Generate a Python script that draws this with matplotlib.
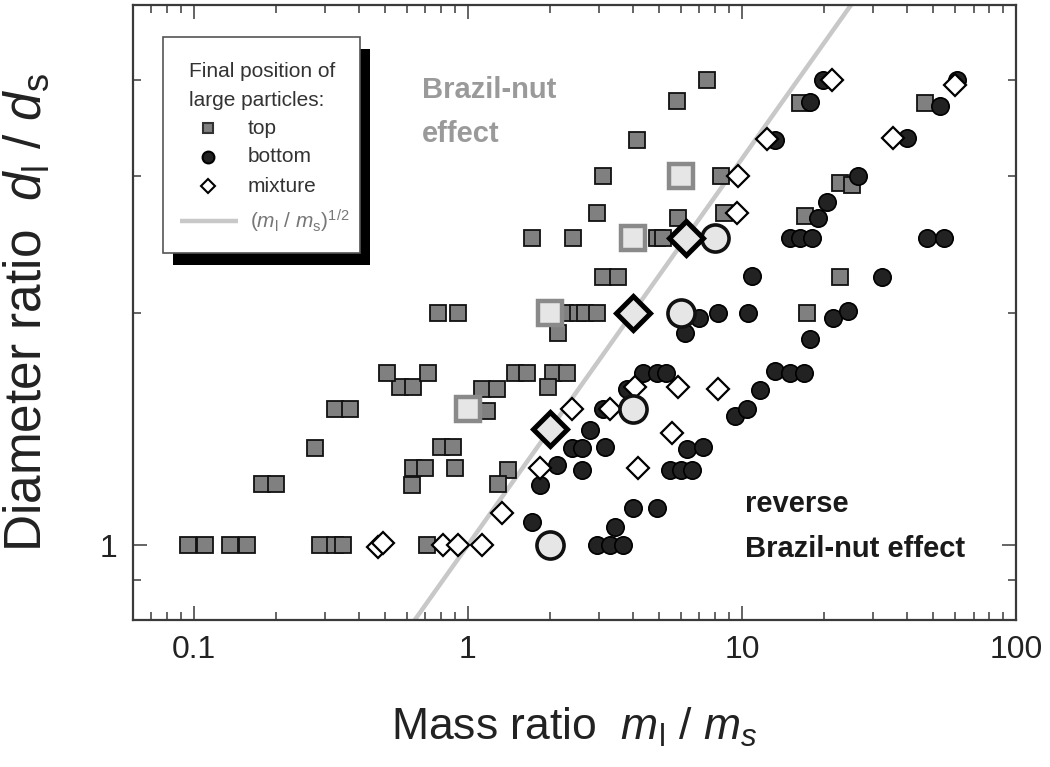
import matplotlib
matplotlib.use("Agg")
import matplotlib.pyplot as plt
import numpy as np
from matplotlib.ticker import LogLocator, FuncFormatter, NullFormatter
from matplotlib.patches import Rectangle

plt.rcParams['font.family'] = ['Liberation Sans', 'DejaVu Sans']
plt.rcParams['mathtext.fontset'] = 'custom'
plt.rcParams['mathtext.rm'] = 'Liberation Sans'
plt.rcParams['mathtext.it'] = 'Liberation Sans:italic'
plt.rcParams['mathtext.bf'] = 'Liberation Sans:bold'

# ---------------- data ----------------
# large particles end on top (squares)
top_x = [0.095, 0.11, 0.135, 0.156, 0.288, 0.327, 0.35, 0.71,
         0.177, 0.2, 0.625, 0.63, 0.70, 0.9, 0.277, 0.80, 0.88,
         0.327, 0.371, 0.565, 0.63, 0.506, 0.715, 0.78, 0.92,
         1.4, 1.29, 1.13, 1.28, 1.17, 1.48, 1.64, 2.04, 2.3, 1.96,
         2.13, 2.26, 2.52, 2.67, 2.96, 3.11, 3.53, 1.71, 2.42, 4.9,
         5.15, 2.96, 3.11, 4.14, 5.8, 7.45, 5.84, 8.6, 8.4, 17.3,
         22.8, 17.0, 22.8, 25.2, 16.3, 46.5]
top_y = [1, 1, 1, 1, 1, 1, 1, 1,
         1.2, 1.2, 1.195, 1.257, 1.257, 1.257, 1.335, 1.34, 1.34,
         1.5, 1.5, 1.6, 1.6, 1.67, 1.67, 2, 2,
         1.25, 1.2, 1.59, 1.59, 1.49, 1.67, 1.67, 1.67, 1.67, 1.6,
         1.88, 2, 2, 2, 2, 2.22, 2.22, 2.5, 2.5, 2.5,
         2.5, 2.69, 3.0, 3.34, 3.76, 4.0, 2.65, 2.69, 3.0, 2.0,
         2.22, 2.67, 2.94, 2.92, 3.73, 3.73]

# large particles end at bottom (circles)
bot_x = [1.71, 1.83, 2.11, 2.6, 2.4, 2.6, 2.79, 3.16, 3.1, 3.8,
         4.35, 4.9, 5.3, 2.95, 3.3, 3.68, 3.44, 4.0, 4.9, 5.46,
         6.0, 6.6, 6.3, 7.2, 9.4, 10.4, 11.6, 13.2, 15.0, 16.9,
         17.7, 21.5, 24.4, 7.0, 8.2, 6.2, 10.5, 10.9, 32.4, 15.0,
         16.3, 18.0, 19.0, 20.5, 26.5, 13.2, 40.0, 17.7, 19.8, 52.8,
         47.5, 54.5, 61.0]
bot_y = [1.07, 1.195, 1.27, 1.25, 1.335, 1.335, 1.41, 1.34, 1.5, 1.59,
         1.67, 1.67, 1.67, 1.0, 1.0, 1.0, 1.055, 1.116, 1.116, 1.25,
         1.25, 1.25, 1.33, 1.34, 1.47, 1.5, 1.587, 1.68, 1.67, 1.67,
         1.85, 1.97, 2.01, 1.97, 2.0, 1.88, 2.0, 2.23, 2.22, 2.5,
         2.5, 2.5, 2.65, 2.78, 3.0, 3.34, 3.36, 3.75, 4.0, 3.70,
         2.5, 2.5, 4.0]

# mixture (diamonds)
mix_x = [0.47, 0.49, 0.81, 0.92, 1.13, 1.33, 1.83, 2.4, 3.3, 4.07,
         5.84, 8.2, 5.55, 4.17, 9.6, 9.65, 12.3, 21.4, 35.6, 60.0]
mix_y = [0.995, 1.005, 1.0, 1.0, 1.0, 1.1, 1.257, 1.5, 1.5, 1.6,
         1.6, 1.59, 1.395, 1.257, 2.69, 3.0, 3.35, 4.0, 3.36, 3.94]

# highlighted (large) symbols
big_top_x = [1, 2, 4, 6]
big_top_y = [1.5, 2, 2.5, 3]
big_bot_x = [2, 4, 6, 8]
big_bot_y = [1, 1.5, 2, 2.5]
big_mix_x = [2, 4, 6.25]
big_mix_y = [1.414, 2, 2.5]

xlim = (0.06, 100)
ylim = (0.8, 5.0)
x_tick_vals = [0.1, 1, 10, 100]

# ---------------- figure ----------------
W, H = 1050, 767
fig = plt.figure(figsize=(W / 100, H / 100), dpi=100)
L, R, T, B = 133, 1016, 5, 620
ax = fig.add_axes([L / W, (H - B) / H, (R - L) / W, (B - T) / H])

def axx(px):
    return (px - L) / (R - L)

def axy(py):
    return (B - py) / (B - T)

ax.set_xscale('log')
ax.set_yscale('log')

# reference line (m_l/m_s)^(1/2)
lx = np.array(xlim)
ax.plot(lx, np.sqrt(lx), color='#c8c8c8', lw=3.2, zorder=1, solid_capstyle='butt')

ax.plot(top_x, top_y, ls='none', marker='s', ms=11.5, mfc='#808080',
        mec='#111111', mew=1.3, zorder=3)
ax.plot(bot_x, bot_y, ls='none', marker='o', ms=12.5, mfc='#222222',
        mec='#000000', mew=1.2, zorder=4)
ax.plot(mix_x, mix_y, ls='none', marker='D', ms=11.5, mfc='white',
        mec='#000000', mew=1.6, zorder=5)

ax.plot(big_top_x, big_top_y, ls='none', marker='s', ms=17.5, mfc='#e6e6e6',
        mec='#8a8a8a', mew=3.2, zorder=6)
ax.plot(big_bot_x, big_bot_y, ls='none', marker='o', ms=19.5, mfc='#e6e6e6',
        mec='#111111', mew=2.6, zorder=6)
ax.plot(big_mix_x, big_mix_y, ls='none', marker='D', ms=17, mfc='#e6e6e6',
        mec='#000000', mew=3.6, zorder=6)

ax.set_xlim(*xlim)
ax.set_ylim(*ylim)

# axes styling
for s in ax.spines.values():
    s.set_color('#3a3a3a')
    s.set_linewidth(1.6)
ax.xaxis.set_major_locator(LogLocator(base=10))
ax.xaxis.set_minor_locator(LogLocator(base=10, subs=np.arange(2, 10)))
ax.yaxis.set_major_locator(LogLocator(base=10))
ax.yaxis.set_minor_locator(LogLocator(base=10, subs=np.arange(2, 10)))
ax.set_xticks(x_tick_vals)
ax.xaxis.set_major_formatter(FuncFormatter(lambda v, p: f"{v:g}"))
ax.yaxis.set_major_formatter(FuncFormatter(lambda v, p: f"{v:g}"))
ax.xaxis.set_minor_formatter(NullFormatter())
ax.yaxis.set_minor_formatter(NullFormatter())
ax.tick_params(which='both', direction='in', top=True, right=True,
               color='#3a3a3a', width=1.1)
ax.tick_params(which='major', length=10, labelsize=23, pad=11,
               labelcolor='#222222')
ax.tick_params(which='minor', length=5.5)

ax.set_xlabel(r"Mass ratio  $m_{\rm l}$ / $m_{s}$", fontsize=32, color='#222222')
ax.xaxis.set_label_coords(0.5, axy(706))
ax.set_ylabel(r"Diameter ratio  $d_{\rm l}$ / $d_{\rm s}$", fontsize=37,
              color='#222222')
ax.yaxis.set_label_coords(axx(52), 0.5)

# annotations
ax.text(axx(422), axy(98), "Brazil-nut", transform=ax.transAxes, fontsize=21,
        fontweight='bold', color='#9a9a9a', va='baseline', ha='left')
ax.text(axx(422), axy(142), "effect", transform=ax.transAxes, fontsize=21,
        fontweight='bold', color='#9a9a9a', va='baseline', ha='left')
ax.text(axx(745), axy(512), "reverse", transform=ax.transAxes, fontsize=21,
        fontweight='bold', color='#1a1a1a', va='baseline', ha='left')
ax.text(axx(745), axy(557), "Brazil-nut effect", transform=ax.transAxes,
        fontsize=21, fontweight='bold', color='#1a1a1a', va='baseline', ha='left')

# manual legend with shadow
bx0, bx1, by0, by1 = 163, 360, 37, 253
sh = Rectangle((axx(bx0 + 10), axy(by1 + 12)), axx(bx1) - axx(bx0),
               axy(by0) - axy(by1), transform=ax.transAxes, facecolor='black',
               edgecolor='none', zorder=9, clip_on=False)
box = Rectangle((axx(bx0), axy(by1)), axx(bx1) - axx(bx0), axy(by0) - axy(by1),
                transform=ax.transAxes, facecolor='white', edgecolor='#555555',
                lw=1.2, zorder=10, clip_on=False)
ax.add_patch(sh)
ax.add_patch(box)
lfs = 15
lcol = '#333333'
ax.text(axx(189), axy(77), "Final position of", transform=ax.transAxes,
        fontsize=lfs, color=lcol, va='baseline', ha='left', zorder=11)
ax.text(axx(189), axy(106), "large particles:", transform=ax.transAxes,
        fontsize=lfs, color=lcol, va='baseline', ha='left', zorder=11)
entries = [("top", 's', 7.5, '#808080', '#333333', 128),
           ("bottom", 'o', 8.5, '#222222', '#000000', 157),
           ("mixture", 'D', 7, 'white', '#000000', 186)]
for lab, mk, ms, fc, ec, py in entries:
    ax.plot([axx(208)], [axy(py)], marker=mk, ms=ms, mfc=fc, mec=ec, mew=1.5,
            ls='none', transform=ax.transAxes, zorder=11, clip_on=False)
    ax.text(axx(248), axy(py), lab, transform=ax.transAxes, fontsize=lfs,
            color=lcol, va='center', ha='left', zorder=11)
ax.plot([axx(180), axx(238)], [axy(221), axy(221)], color='#c8c8c8', lw=3.2,
        transform=ax.transAxes, zorder=11, clip_on=False, solid_capstyle='butt')
ax.text(axx(250), axy(221), r"$(m_{\rm l}\ /\ m_{\rm s})^{1/2}$",
        transform=ax.transAxes, fontsize=lfs, color='#777777', va='center',
        ha='left', zorder=11)

fig.savefig("out.png", dpi=100, facecolor='white')
